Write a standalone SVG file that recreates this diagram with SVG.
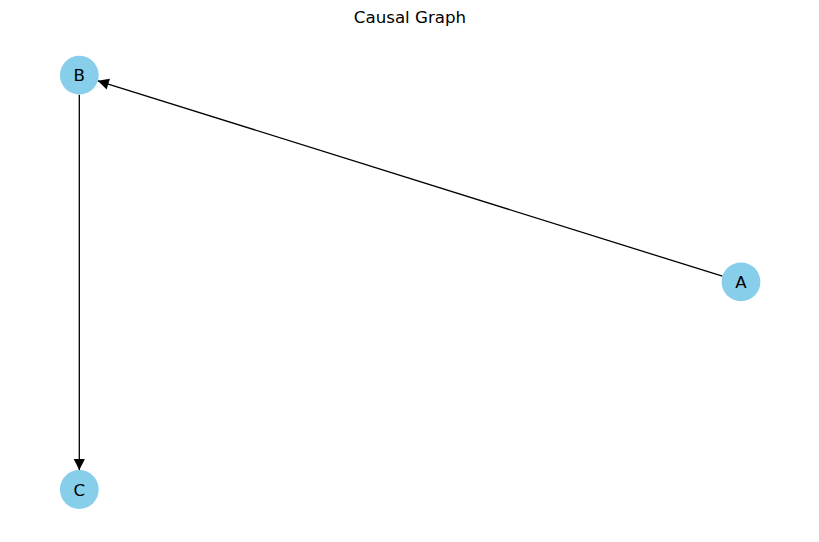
<svg xmlns="http://www.w3.org/2000/svg" width="819" height="542" viewBox="0 0 819 542">
<style>
.node circle{fill:#87CEEB;stroke:none}
.node text{font-family:"DejaVu Sans",sans-serif;font-size:16.67px;text-anchor:middle;fill:#000}
.edge{stroke:#000;stroke-width:1.3;fill:none;marker-end:url(#arr)}
.title{font-family:"DejaVu Sans",sans-serif;font-size:16.67px;text-anchor:middle;fill:#000}
</style>
<defs>
<marker id="arr" markerUnits="userSpaceOnUse" viewBox="-12 -6 12 12" refX="0" refY="0" markerWidth="12" markerHeight="12" orient="auto">
<path d="M0,0 L-11,-5.6 L-11,5.6 Z" fill="#000"/>
</marker>
</defs>
<rect width="819" height="542" fill="#fff"/>
<text class="title" x="410" y="23">Causal Graph</text>
<g id="edges">
<line class="edge" x1="722.4" y1="276.2" x2="97.8" y2="80.8"/>
<line class="edge" x1="79.3" y1="94.8" x2="79.3" y2="470"/>
</g>
<g id="node-B" class="node"><circle cx="79.3" cy="75.2" r="19.4"/><text x="79.3" y="81.3">B</text></g>
<g id="node-A" class="node"><circle cx="741" cy="281.8" r="19.4"/><text x="741" y="287.9">A</text></g>
<g id="node-C" class="node"><circle cx="79.3" cy="489.5" r="19.4"/><text x="79.3" y="495.6">C</text></g>
</svg>
